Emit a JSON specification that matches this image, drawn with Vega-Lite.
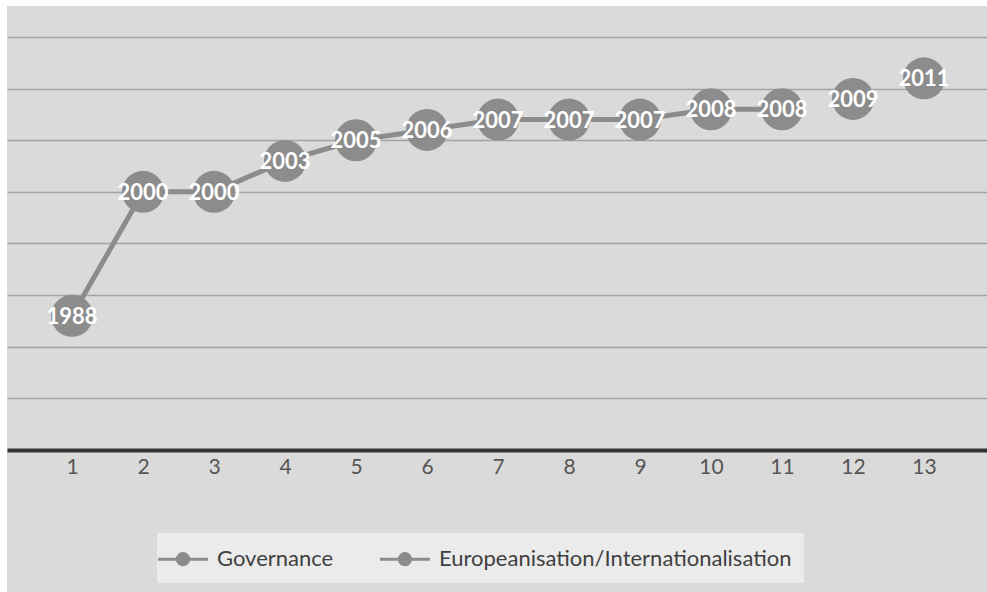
{
  "$schema": "https://vega.github.io/schema/vega-lite/v6.json",
  "width": 987,
  "height": 592,
  "autosize": {"type": "fit", "contains": "padding"},
  "padding": {"left": 7, "top": 6, "right": 0, "bottom": 0},
  "background": "#ffffff",
  "config": {
    "view": {"stroke": null, "fill": "#dadada"}
  },
  "data": {
    "values": [
      {"pos": 1, "year": 1988, "series": "Governance"},
      {"pos": 2, "year": 2000, "series": "Governance"},
      {"pos": 3, "year": 2000, "series": "Governance"},
      {"pos": 4, "year": 2003, "series": "Governance"},
      {"pos": 5, "year": 2005, "series": "Governance"},
      {"pos": 6, "year": 2006, "series": "Governance"},
      {"pos": 7, "year": 2007, "series": "Governance"},
      {"pos": 8, "year": 2007, "series": "Governance"},
      {"pos": 9, "year": 2007, "series": "Governance"},
      {"pos": 10, "year": 2008, "series": "Governance"},
      {"pos": 11, "year": 2008, "series": "Governance"},
      {"pos": 12, "year": 2009, "series": "Europeanisation/Internationalisation"},
      {"pos": 13, "year": 2011, "series": "Europeanisation/Internationalisation"}
    ]
  },
  "encoding": {
    "x": {
      "field": "pos", "type": "quantitative",
      "scale": {"domain": [0.0845, 13.887], "nice": false, "zero": false},
      "axis": {
        "orient": "bottom", "offset": -142, "values": [1,2,3,4,5,6,7,8,9,10,11,12,13],
        "format": "d", "domain": true, "domainColor": "#333333", "domainWidth": 4,
        "ticks": false, "grid": false, "title": null,
        "labelPadding": 6, "labelFont": "Lato", "labelFontSize": 21, "labelColor": "#555555"
      }
    },
    "y": {
      "field": "year", "type": "quantitative",
      "scale": {"domain": [1961.25, 2018], "nice": false, "zero": false},
      "axis": {
        "values": [1980, 1985, 1990, 1995, 2000, 2005, 2010, 2015],
        "grid": true, "gridColor": "#a2a2a2", "gridWidth": 1.5,
        "labels": false, "ticks": false, "domain": false, "title": null
      }
    }
  },
  "layer": [
    {
      "transform": [{"filter": "datum.series == 'Governance'"}],
      "mark": {"type": "line", "strokeWidth": 5, "color": "#8c8c8c"},
      "encoding": {}
    },
    {
      "mark": {"type": "point", "shape": "circle", "filled": true, "opacity": 1, "size": 1764},
      "encoding": {
        "color": {
          "field": "series", "type": "nominal",
          "scale": {"domain": ["Governance", "Europeanisation/Internationalisation"], "range": ["#8c8c8c", "#8c8c8c"]},
          "legend": {
            "orient": "none",
            "legendX": 150,
            "legendY": 527,
            "direction": "horizontal",
            "fillColor": "#ebebeb",
            "padding": 12,
            "title": null,
            "labelFont": "Lato",
            "labelFontSize": 22,
            "labelColor": "#404040",
            "labelLimit": 0,
            "labelOffset": 20,
            "columnPadding": 40,
            "symbolType": "M-2,0L-0.45,0M0.45,0L2,0M-0.45,0A0.45,0.45 0 1,1 0.45,0A0.45,0.45 0 1,1 -0.45,0Z",
            "symbolSize": 625,
            "symbolStrokeWidth": 3,
            "symbolFillColor": "#8c8c8c",
            "symbolStrokeColor": "#8c8c8c"
          }
        }
      }
    },
    {
      "mark": {"type": "text", "font": "Lato", "fontWeight": "bold", "fontSize": 22, "color": "#ffffff", "align": "center", "baseline": "middle", "dy": 1},
      "encoding": {
        "text": {"field": "year", "type": "nominal"}
      }
    }
  ]
}
